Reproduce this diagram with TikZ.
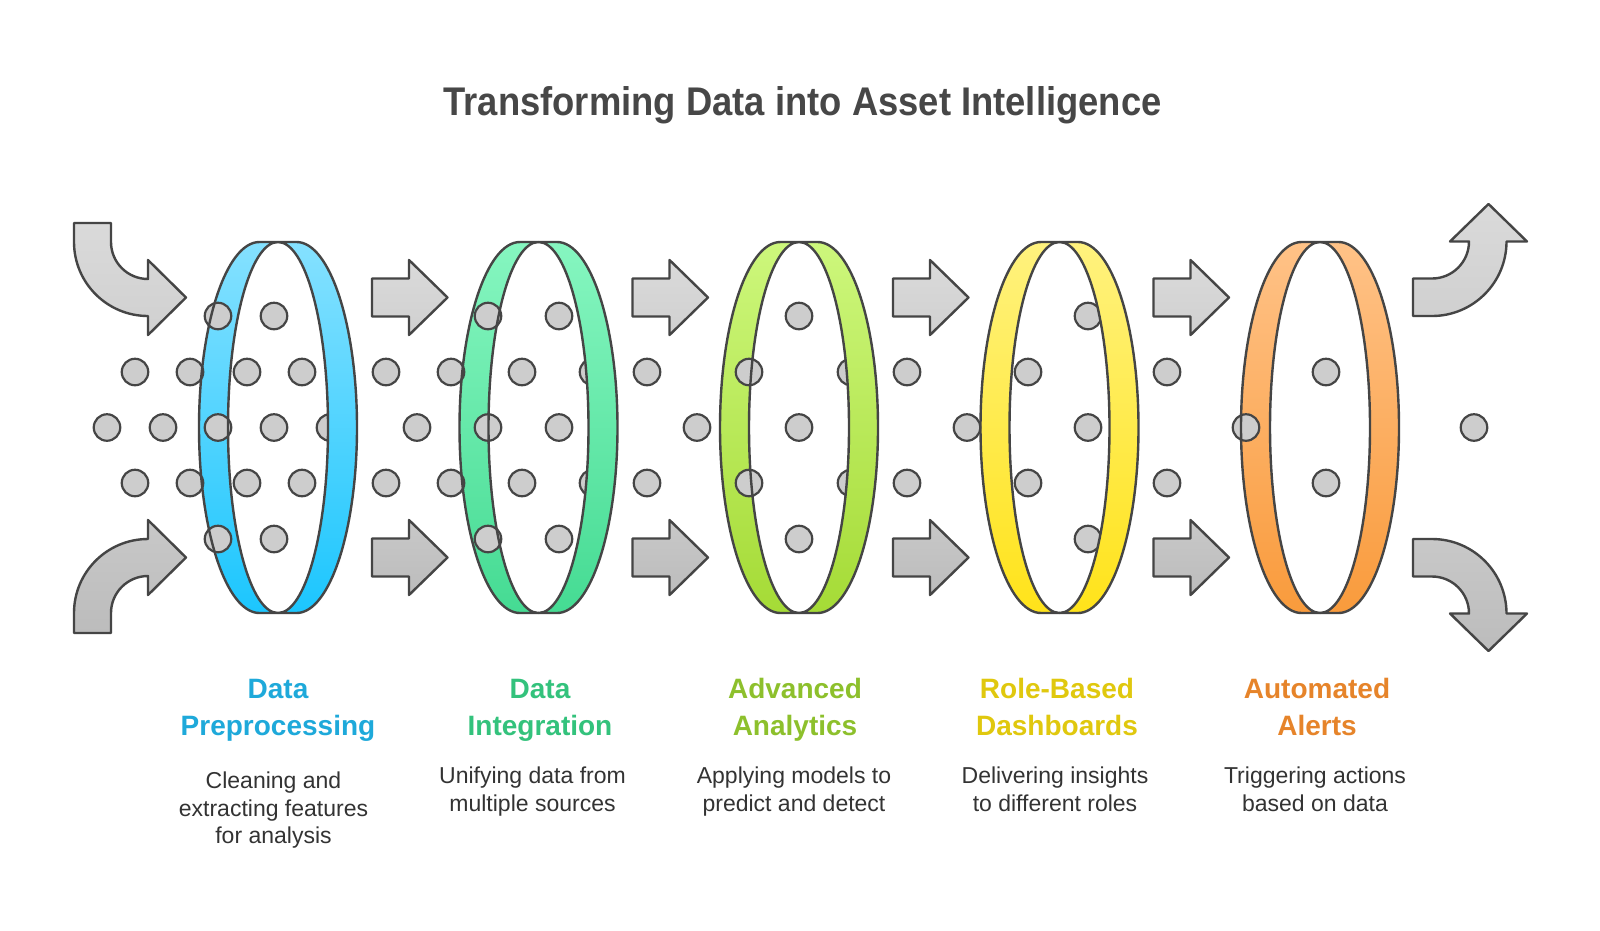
\documentclass[tikz,border=0pt]{standalone}
\usepackage{fontspec}
\setmainfont{Liberation Sans}
\definecolor{olc}{HTML}{454545}
\definecolor{dotc}{HTML}{CDCDCD}
\definecolor{titlec}{HTML}{474747}
\definecolor{descc}{HTML}{333333}
\definecolor{ga}{HTML}{DADADA}
\definecolor{gb}{HTML}{D0D0D0}
\definecolor{gc}{HTML}{C8C8C8}
\definecolor{gd}{HTML}{BCBCBC}
\definecolor{r1t}{HTML}{85E1FF}\definecolor{r1b}{HTML}{1CC6FE}
\definecolor{r2t}{HTML}{86F6C0}\definecolor{r2b}{HTML}{45DB93}
\definecolor{r3t}{HTML}{CDF77C}\definecolor{r3b}{HTML}{A5DB36}
\definecolor{r4t}{HTML}{FFF27E}\definecolor{r4b}{HTML}{FFE31A}
\definecolor{r5t}{HTML}{FFC287}\definecolor{r5b}{HTML}{F99B3C}
\definecolor{l1}{HTML}{1EA9DA}
\definecolor{l2}{HTML}{33C27C}
\definecolor{l3}{HTML}{8DC02C}
\definecolor{l4}{HTML}{E0C80E}
\definecolor{l5}{HTML}{E6842A}
\begin{document}
\begin{tikzpicture}[x=1pt,y=-1pt,
  outl/.style={draw=olc, line width=2.4pt, line join=round},
  uparr/.style={outl, top color=ga, bottom color=gb},
  loarr/.style={outl, top color=gc, bottom color=gd},
  dot/.style={circle, minimum size=26.5pt, inner sep=0pt, fill=dotc, draw=olc, line width=2.2pt},
  lt/.style={anchor=base, font=\bfseries\fontsize{28}{34}\selectfont},
  ld/.style={anchor=base, text=descc, font=\fontsize{23}{28}\selectfont}]
\useasboundingbox[fill=white] (0,0) rectangle (1600,930);

% title
\node[anchor=base, text=titlec, font=\bfseries\fontsize{40}{48}\selectfont] (title) at (802.5,115) {\scalebox{0.91}[1]{Transforming Data into Asset Intelligence}};

% curved input arrows
\draw[uparr] (74,223) -- (74,242) arc[start angle=180, end angle=90, radius=74] -- (148,335) -- (186,297.5) -- (148,260) -- (148,279) arc[start angle=90, end angle=180, radius=37] -- (111,223) -- cycle;
\draw[loarr] (74,633) -- (74,613) arc[start angle=180, end angle=270, radius=74] -- (148,520) -- (186,557.5) -- (148,595) -- (148,576) arc[start angle=270, end angle=180, radius=37] -- (111,633) -- cycle;

% curved output arrows
\draw[uparr] (1413,316) -- (1432,316) arc[start angle=90, end angle=0, radius=74.5] -- (1527,241.5) -- (1488.5,204) -- (1450,241.5) -- (1469,241.5) arc[start angle=0, end angle=90, radius=37] -- (1413,278.5) -- cycle;
\draw[loarr] (1413,539) -- (1432,539) arc[start angle=270, end angle=360, radius=74.5] -- (1527,613.5) -- (1488.5,651) -- (1450,613.5) -- (1469,613.5) arc[start angle=0, end angle=-90, radius=37] -- (1413,576.5) -- cycle;

% straight arrows
\foreach \x in {372,632.5,893,1153.5}{
  \draw[uparr] (\x,278.5) -- (\x+37,278.5) -- (\x+37,260) -- (\x+75.5,297.5) -- (\x+37,335) -- (\x+37,316.5) -- (\x,316.5) -- cycle;
  \draw[loarr] (\x,538.5) -- (\x+37,538.5) -- (\x+37,520) -- (\x+75.5,557.5) -- (\x+37,595) -- (\x+37,576.5) -- (\x,576.5) -- cycle;
}

% left (front) bands: fill
\foreach \c/\tc/\bc in {278/r1t/r1b,538.5/r2t/r2b,799/r3t/r3b,1059.5/r4t/r4b,1320/r5t/r5b}{
  \shade[top color=\tc, bottom color=\bc] (\c,242) -- (\c-18.5,242) arc[start angle=270, end angle=90, x radius=60.5, y radius=185.5] -- (\c,613) arc[start angle=90, end angle=270, x radius=50, y radius=185.5] -- cycle;
}

% dots
\foreach \px/\py [count=\i] in {
  218/316,274/316,135/372,190/372,247/372,302/372,107/427.5,163/427.5,218/427.5,274/427.5,330/427.5,135/483,190/483,247/483,302/483,218/539,274/539,
  386/372,451/372,522/372,593/372,417/427.5,488/427.5,559/427.5,386/483,451/483,522/483,593/483,488/316,559/316,488/539,559/539,
  647/372,749/372,851/372,697/427.5,799/427.5,647/483,749/483,851/483,799/316,799/539,
  907/372,1028/372,967/427.5,1088/427.5,907/483,1028/483,1088/316,1088/539,
  1167/372,1167/483,1246/427.5,1326/372,1326/483,1474/427.5}{
  \node[dot] (dot\i) at (\px,\py) {};
}

% right bands and outlines
\foreach \c/\tc/\bc in {278/r1t/r1b,538.5/r2t/r2b,799/r3t/r3b,1059.5/r4t/r4b,1320/r5t/r5b}{
  \shade[top color=\tc, bottom color=\bc] (\c,242) -- (\c+18.5,242) arc[start angle=-90, end angle=90, x radius=60.5, y radius=185.5] -- (\c,613) arc[start angle=90, end angle=-90, x radius=50, y radius=185.5] -- cycle;
  \draw[outl] (\c,242) -- (\c+18.5,242) arc[start angle=-90, end angle=90, x radius=60.5, y radius=185.5] -- (\c,613) arc[start angle=90, end angle=-90, x radius=50, y radius=185.5] -- cycle;
  \draw[outl] (\c,242) -- (\c-18.5,242) arc[start angle=270, end angle=90, x radius=60.5, y radius=185.5] -- (\c,613) arc[start angle=90, end angle=270, x radius=50, y radius=185.5] -- cycle;
}

% labels
\node[lt, text=l1] (t1a) at (278,698) {Data};
\node[lt, text=l1] (t1b) at (278,735) {Preprocessing};
\node[ld] (d1a) at (273.5,788) {Cleaning and};
\node[ld] (d1b) at (273.5,816) {extracting features};
\node[ld] (d1c) at (273.5,843.5) {for analysis};

\node[lt, text=l2] (t2a) at (540,698) {Data};
\node[lt, text=l2] (t2b) at (540,735) {Integration};
\node[ld] (d2a) at (532.5,783) {Unifying data from};
\node[ld] (d2b) at (532.5,811) {multiple sources};

\node[lt, text=l3] (t3a) at (795,698) {Advanced};
\node[lt, text=l3] (t3b) at (795,735) {Analytics};
\node[ld] (d3a) at (794,783) {Applying models to};
\node[ld] (d3b) at (794,811) {predict and detect};

\node[lt, text=l4] (t4a) at (1057,698) {Role-Based};
\node[lt, text=l4] (t4b) at (1057,735) {Dashboards};
\node[ld] (d4a) at (1055,783) {Delivering insights};
\node[ld] (d4b) at (1055,811) {to different roles};

\node[lt, text=l5] (t5a) at (1317,698) {Automated};
\node[lt, text=l5] (t5b) at (1317,735) {Alerts};
\node[ld] (d5a) at (1315,783) {Triggering actions};
\node[ld] (d5b) at (1315,811) {based on data};
\end{tikzpicture}
\end{document}
